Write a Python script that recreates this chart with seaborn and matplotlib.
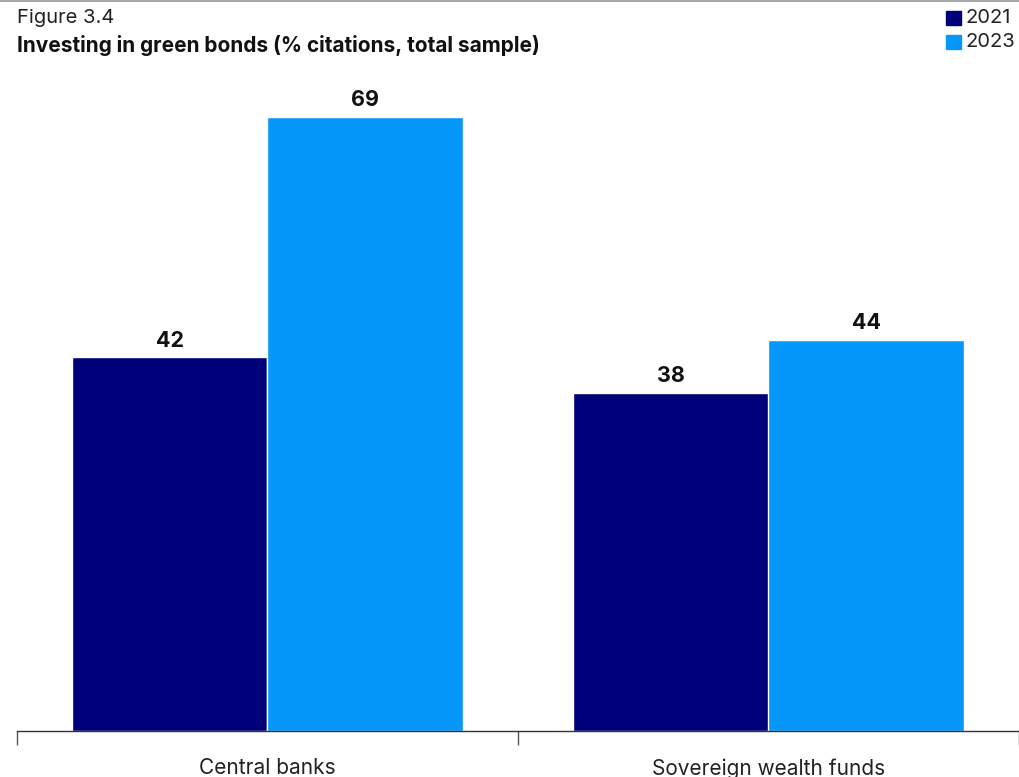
import matplotlib
matplotlib.use("Agg")
import matplotlib.pyplot as plt
import seaborn as sns
import pandas as pd
from matplotlib.lines import Line2D
from matplotlib.patches import Rectangle

categories = ["Central banks", "Sovereign wealth funds"]
years = ["2021", "2023"]
values_2021 = [42, 38]
values_2023 = [69, 44]
colors = ["#00007A", "#0597F9"]

df = pd.DataFrame({
    "category": categories * 2,
    "year": [years[0]] * 2 + [years[1]] * 2,
    "value": values_2021 + values_2023,
})

sns.set_style("white")
plt.rcParams['font.family'] = ['Inter', 'DejaVu Sans']

fig = plt.figure(figsize=(10.2, 7.77), dpi=100)
ax = fig.add_axes([17/1020, 1 - 731/777, 1002/1020, (731 - 80)/777])

sns.barplot(data=df, x="category", y="value", hue="year", palette=colors,
            width=0.78, gap=0, edgecolor="white", linewidth=1, ax=ax, legend=False,
            saturation=1)

ax.set_xlim(-0.5, 1.5)
ax.set_ylim(0, 73.2)
ax.set_xlabel("")
ax.set_ylabel("")
ax.set_yticks([])
for s in ["top", "right", "left"]:
    ax.spines[s].set_visible(False)
ax.spines["bottom"].set_color("#333333")
ax.spines["bottom"].set_linewidth(1)

ax.set_xticks([0, 1])
ax.set_xticklabels(categories, fontsize=15, color="#222222")
ax.set_xticks([-0.5, 0.5, 1.5], minor=True)
ax.tick_params(axis="x", which="major", length=0, pad=19.5)
ax.tick_params(axis="x", which="minor", length=10, width=1, color="#555555", direction="out", bottom=True)

for cont in ax.containers:
    ax.bar_label(cont, labels=[f"{int(v)}" for v in cont.datavalues], padding=5,
                 fontsize=15.5, fontweight="bold", color="#111111")

fig.text(17/1020, 1 - 18/777, "Figure 3.4", fontsize=14.5, color="#222222", va="center", ha="left")
fig.text(17/1020, 1 - 46/777, "Investing in green bonds (% citations, total sample)", fontsize=15,
         fontweight="bold", color="#111111", va="center", ha="left")

# top gray rule
fig.add_artist(Line2D([0, 1], [1 - 1/777, 1 - 1/777], color="#aaaaaa", linewidth=1.5, transform=fig.transFigure))

# legend
for i, (yr, c) in enumerate(zip(years, colors)):
    yc = 18 + 24 * i
    fig.add_artist(Rectangle((946/1020, 1 - (yc + 7)/777), 15/1020, 14/777, color=c, transform=fig.transFigure))
    fig.text(966/1020, 1 - yc/777, yr, fontsize=14.5, color="#222222", va="center", ha="left")

fig.savefig("out.png", dpi=100)
